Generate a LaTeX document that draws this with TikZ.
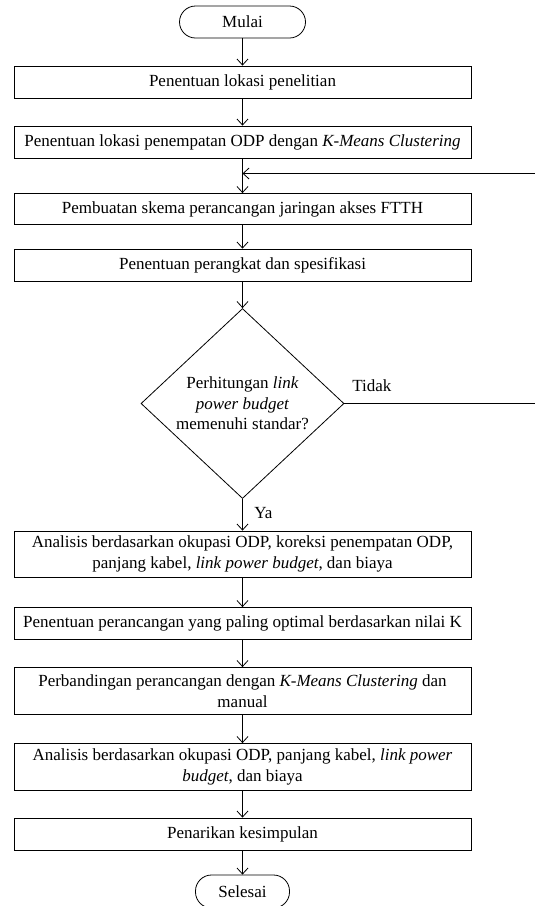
\documentclass[tikz,border=0pt]{standalone}
\usepackage{fontspec}
\setmainfont{Liberation Serif}
\usetikzlibrary{arrows.meta,shapes.geometric}
\begin{document}
\begin{tikzpicture}[x=1pt,y=-1pt,
  font=\fontsize{17}{20.5}\selectfont,
  line width=0.8pt,
  procbox/.style={draw, rectangle, minimum width=457pt, align=center, inner sep=2pt},
  term/.style={draw, rectangle, rounded corners=16pt, minimum height=32pt, inner sep=2pt},
  decide/.style={draw, diamond, minimum width=203pt, minimum height=190pt, aspect=1.07, inner sep=0pt, align=center},
  flow/.style={-{Straight Barb[length=6pt,width=11pt]}},
  lbl/.style={inner sep=0pt, anchor=west}
]
\clip (0,0) rectangle (535,906);
\useasboundingbox (0,0) rectangle (535,906);
\fill[white] (0,0) rectangle (535,906);

\node[term, minimum width=126pt] (start) at (242.5,22) {Mulai};
\node[procbox, minimum height=32pt] (b1) at (242.5,82) {Penentuan lokasi penelitian};
\node[procbox, minimum height=32pt] (b2) at (242.5,142) {Penentuan lokasi penempatan ODP dengan \textit{K-Means Clustering}};
\node[procbox, minimum height=31pt] (b3) at (242.5,209) {Pembuatan skema perancangan jaringan akses FTTH};
\node[procbox, minimum height=32pt] (b4) at (242.5,265) {Penentuan perangkat dan spesifikasi};
\node[decide] (d) at (242.5,403.5) {Perhitungan \textit{link}\\ \textit{power budget}\\ memenuhi standar?};
\node[procbox, minimum height=46pt] (b5) at (242.5,554) {Analisis berdasarkan okupasi ODP, koreksi penempatan ODP,\\ panjang kabel, \textit{link power budget}, dan biaya};
\node[procbox, minimum height=32pt] (b6) at (242.5,623.5) {Penentuan perancangan yang paling optimal berdasarkan nilai K};
\node[procbox, minimum height=47pt] (b7) at (242.5,691) {Perbandingan perancangan dengan \textit{K-Means Clustering} dan\\ manual};
\node[procbox, minimum height=47pt] (b8) at (242.5,767) {Analisis berdasarkan okupasi ODP, panjang kabel, \textit{link power}\\ \textit{budget}, dan biaya};
\node[procbox, minimum height=32pt] (b9) at (242.5,834) {Penarikan kesimpulan};
\node[term, minimum width=94pt, minimum height=33pt] (end) at (242.5,891.5) {Selesai};

\coordinate (join) at (242.5,173.5);
\coordinate (r1) at (545,403.5);
\coordinate (r2) at (545,173.5);

\draw[flow] (start) -- (b1);
\draw[flow] (b1) -- (b2);
\draw (b2) -- (join);
\draw[flow] (join) -- (b3);
\draw[flow] (b3) -- (b4);
\draw[flow] (b4) -- (d);
\draw[flow] (d) -- (b5);
\draw[flow] (b5) -- (b6);
\draw[flow] (b6) -- (b7);
\draw[flow] (b7) -- (b8);
\draw[flow] (b8) -- (b9);
\draw[flow] (b9) -- (end);
\draw[flow] (d.east) -- (r1) -- (r2) -- (join);

\node[lbl] (tidak) at (352,386) {Tidak};
\node[lbl] (ya) at (254,513) {Ya};
\end{tikzpicture}
\end{document}
